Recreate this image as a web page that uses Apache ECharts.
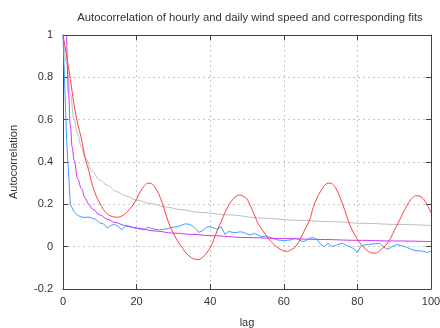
<!DOCTYPE html>
<html>
<head>
<meta charset="utf-8">
<script src="https://cdn.jsdelivr.net/npm/echarts@6/dist/echarts.min.js"></script>
<style>
  html, body { margin: 0; padding: 0; background: #fff; }
  #chart { width: 440px; height: 328px; }
</style>
</head>
<body>
<div id="chart"></div>
<script>
// ---- Data ----
const titleText = 'Autocorrelation of hourly and daily wind speed and corresponding fits';
const xTitle = 'lag';
const yTitle = 'Autocorrelation';

// Red curve, one value per lag 0..100
const redValues = [
  1.0, 0.9, 0.79, 0.67, 0.58, 0.51, 0.42, 0.36, 0.29, 0.24,
  0.205, 0.175, 0.155, 0.145, 0.14, 0.139, 0.145, 0.157, 0.175, 0.197,
  0.225, 0.26, 0.285, 0.3, 0.298, 0.28, 0.25, 0.205, 0.15, 0.1,
  0.063, 0.03, 0.005, -0.02, -0.04, -0.053, -0.06, -0.06, -0.05, -0.03,
  -0.005, 0.035, 0.08, 0.12, 0.16, 0.195, 0.22, 0.238, 0.244, 0.238,
  0.225, 0.19, 0.15, 0.11, 0.082, 0.058, 0.035, 0.016, 0.0, -0.012,
  -0.02, -0.022, -0.015, -0.003, 0.02, 0.055, 0.09, 0.125, 0.185, 0.23,
  0.262, 0.288, 0.3, 0.298, 0.28, 0.245, 0.2, 0.15, 0.1, 0.065,
  0.035, 0.01, -0.008, -0.022, -0.03, -0.03, -0.02, -0.005, 0.012, 0.04,
  0.075, 0.11, 0.145, 0.18, 0.21, 0.232, 0.241, 0.238, 0.225, 0.195,
  0.16
];

// Blue curve, one value per lag 0..100
const blueValues = [
  1.0, 0.5, 0.2, 0.165, 0.148, 0.14, 0.138, 0.14, 0.134, 0.128,
  0.112, 0.108, 0.088, 0.1, 0.106, 0.095, 0.08, 0.098, 0.094, 0.09,
  0.087, 0.083, 0.079, 0.092, 0.086, 0.082, 0.079, 0.081, 0.083, 0.088,
  0.092, 0.094, 0.1, 0.107, 0.107, 0.1, 0.085, 0.068, 0.076, 0.092,
  0.094, 0.088, 0.082, 0.094, 0.058, 0.072, 0.068, 0.066, 0.07, 0.068,
  0.06, 0.055, 0.063, 0.055, 0.047, 0.05, 0.045, 0.04, 0.033, 0.03,
  0.028, 0.03, 0.032, 0.04, 0.035, 0.024, 0.028, 0.04, 0.043, 0.035,
  0.01, 0.0, 0.016, 0.0, 0.005, 0.012, 0.016, 0.006, 0.0, -0.01,
  -0.028, 0.004, 0.008, 0.01, 0.012, 0.014, 0.016, 0.0, -0.012, -0.005,
  0.006, 0.01, 0.004, 0.0, -0.008, -0.015, -0.019, -0.02, -0.022, -0.028,
  -0.02
];

// Purple fit: lag / value pairs
const purpleLags   = [1, 1.5, 2, 2.5, 3, 4, 5, 6, 7, 8, 10, 12, 14, 17, 20, 25, 30, 35, 40, 50, 60, 70, 80, 90, 100];
const purpleValues = [1.0, 0.72, 0.57, 0.47, 0.41, 0.32, 0.275, 0.23, 0.2, 0.178, 0.15, 0.13, 0.115, 0.1, 0.088, 0.074, 0.064, 0.058, 0.052, 0.043, 0.038, 0.034, 0.03, 0.027, 0.024];

// Gray fit: lag / value pairs
const grayLags   = [0, 1, 2, 3, 4, 5, 6, 8, 10, 12, 14.6, 17, 20, 24, 28, 32, 37, 45, 54, 63, 73, 82, 91, 100];
const grayValues = [1.0, 0.87, 0.72, 0.6, 0.53, 0.47, 0.42, 0.355, 0.315, 0.29, 0.26, 0.24, 0.22, 0.203, 0.187, 0.175, 0.162, 0.15, 0.135, 0.125, 0.118, 0.11, 0.105, 0.1];

const xTicks = { min: 0, max: 100, interval: 20 };
const yTicks = { min: -0.2, max: 1, interval: 0.2 };

// ---- Build ----
const pairs = (xs, ys) => xs.map((x, i) => [x, ys[i]]);
const perLag = ys => ys.map((y, i) => [i, y]);

const font = 'Liberation Sans, Arial, sans-serif';
const txtColor = '#333';
const axisColor = '#404040';

const chart = echarts.init(document.getElementById('chart'), null, { renderer: 'canvas' });

const baseAxis = {
  axisLine: { show: true, onZero: false, lineStyle: { color: axisColor, width: 1 } },
  axisTick: { show: true, inside: true, length: 5, lineStyle: { color: axisColor } },
};

chart.setOption({
  animation: false,
  backgroundColor: '#fff',
  title: {
    text: titleText,
    left: 245, top: 7, textAlign: 'center',
    textStyle: { fontFamily: font, fontSize: 11.3, fontWeight: 'normal', color: txtColor }
  },
  grid: { left: 63, right: 9, top: 35, bottom: 39, containLabel: false, outerBoundsMode: 'none' },
  xAxis: [
    Object.assign({}, baseAxis, {
      type: 'value', min: xTicks.min, max: xTicks.max, interval: xTicks.interval,
      name: xTitle, nameLocation: 'middle', nameGap: 28,
      nameTextStyle: { fontFamily: font, fontSize: 11, color: txtColor },
      axisLabel: { fontFamily: font, fontSize: 11, color: txtColor, margin: 7 },
      splitLine: { show: true, lineStyle: { color: '#c8c8c8', type: [2, 3], width: 1 } }
    }),
    Object.assign({}, baseAxis, {
      type: 'value', position: 'top', min: xTicks.min, max: xTicks.max, interval: xTicks.interval,
      axisLabel: { show: false }, splitLine: { show: false }
    })
  ],
  yAxis: [
    Object.assign({}, baseAxis, {
      type: 'value', min: yTicks.min, max: yTicks.max, interval: yTicks.interval,
      name: yTitle, nameLocation: 'middle', nameGap: 44, nameRotate: 90,
      nameTextStyle: { fontFamily: font, fontSize: 11, color: txtColor },
      axisLabel: { fontFamily: font, fontSize: 11, color: txtColor, margin: 10 },
      splitLine: { show: true, lineStyle: { color: '#c8c8c8', type: [2, 3], width: 1 } }
    }),
    Object.assign({}, baseAxis, {
      type: 'value', position: 'right', min: yTicks.min, max: yTicks.max, interval: yTicks.interval,
      axisLabel: { show: false }, splitLine: { show: false }
    })
  ],
  series: [
    {
      type: 'line', name: 'gray fit', data: pairs(grayLags, grayValues),
      showSymbol: false, smooth: 0.4, smoothMonotone: 'x', clip: true,
      lineStyle: { color: '#bdbdbd', width: 1 }
    },
    {
      type: 'line', name: 'blue', data: perLag(blueValues),
      showSymbol: false, smooth: false, clip: true,
      lineStyle: { color: '#3d9eff', width: 1 }
    },
    {
      type: 'line', name: 'purple fit', data: pairs(purpleLags, purpleValues),
      showSymbol: false, smooth: 0.4, smoothMonotone: 'x', clip: true,
      lineStyle: { color: '#cc33ff', width: 1 }
    },
    {
      type: 'line', name: 'red', data: perLag(redValues),
      showSymbol: false, smooth: 0.3, clip: true,
      lineStyle: { color: '#ff4040', width: 1 }
    }
  ]
});
</script>
</body>
</html>
